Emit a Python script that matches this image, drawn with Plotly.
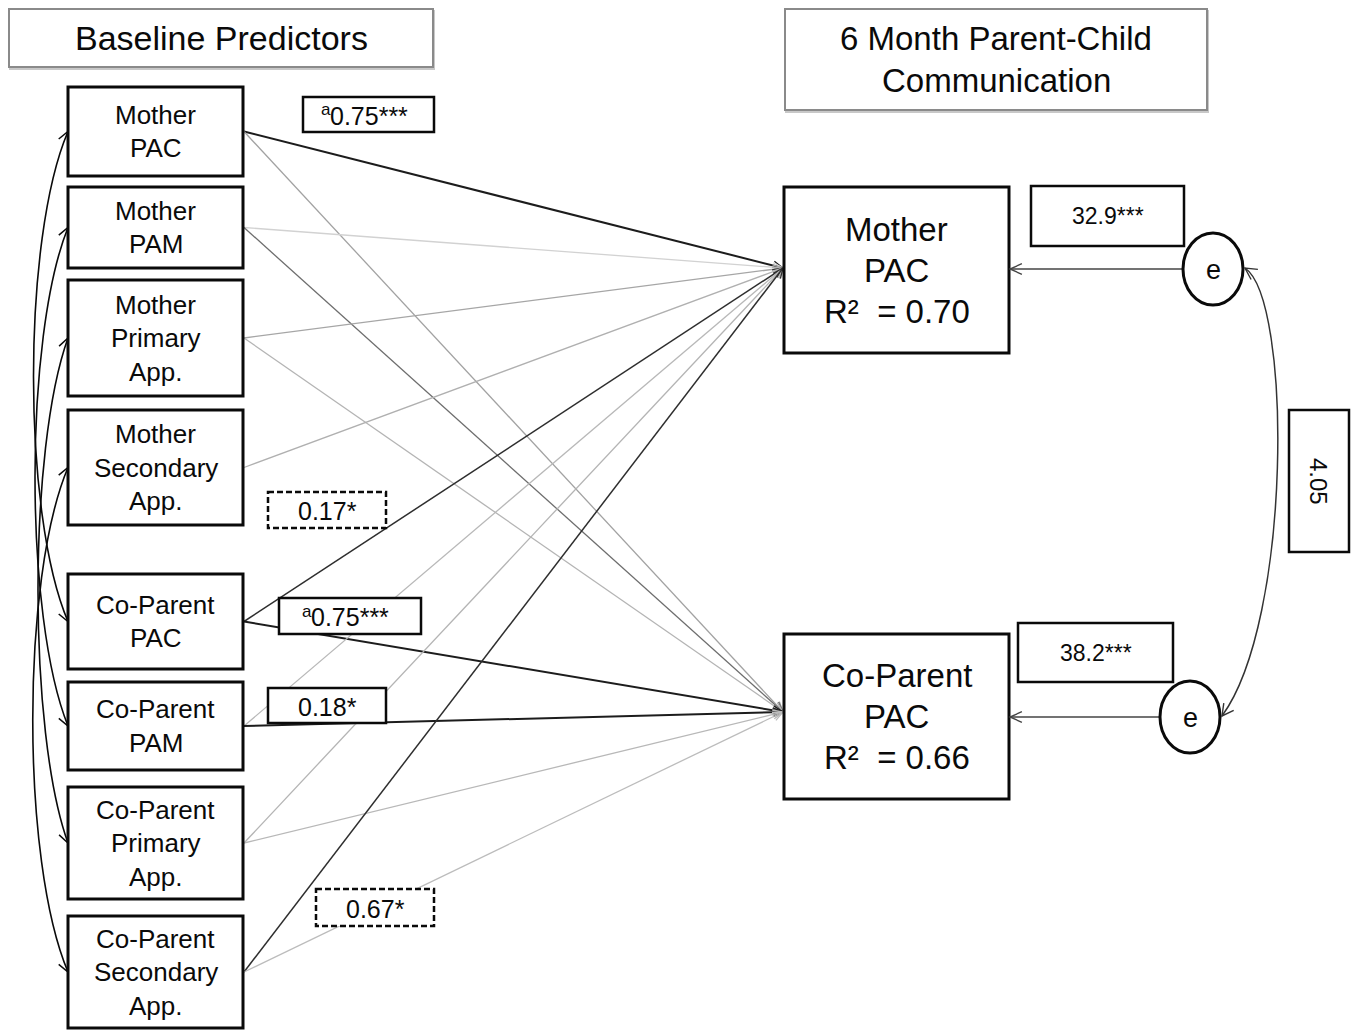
import math
import plotly.graph_objects as go

# ---------------- model content ----------------
header_left = "Baseline Predictors"
header_right = "6 Month Parent-Child<br>Communication"

predictor_labels = [
    "Mother<br>PAC", "Mother<br>PAM", "Mother<br>Primary<br>App.", "Mother<br>Secondary<br>App.",
    "Co-Parent<br>PAC", "Co-Parent<br>PAM", "Co-Parent<br>Primary<br>App.", "Co-Parent<br>Secondary<br>App.",
]
outcome_labels = ["Mother<br>PAC", "Co-Parent<br>PAC"]
outcome_r2 = [0.70, 0.66]
residual_variance = [32.9, 38.2]
residual_covariance = 4.05

# regression paths: predictor index -> outcome index
path_source = [0, 0, 1, 1, 2, 2, 3, 4, 4, 5, 5, 6, 6, 7, 7]
path_target = [0, 1, 0, 1, 0, 1, 0, 0, 1, 0, 1, 0, 1, 0, 1]
# 'actor' / 'partner' = significant, 'ns' = not significant
path_effect = ["actor", "ns", "ns", "ns", "ns", "ns", "ns",
               "partner", "actor", "ns", "actor", "ns", "ns", "partner", "ns"]

# reported coefficients (note letter, value text, effect type)
coef_note = ["a", "", "a", "", ""]
coef_text = ["0.75***", "0.17*", "0.75***", "0.18*", "0.67*"]
coef_kind = ["actor", "partner", "actor", "actor", "partner"]

# covariances among predictors (mother measure <-> co-parent measure)
cov_from = [0, 1, 2, 3]
cov_to = [4, 5, 6, 7]

# ---------------- geometry & styling ----------------
W, H = 1355, 1030
FONT = "Liberation Sans, Arial, Helvetica, sans-serif"
INK = "#0a0a0a"

HEAD_BOXES = [(9, 9, 433, 67), (785, 9, 1207, 110)]
PRED_X = (68, 243)
PRED_Y = [(87, 176), (187, 268), (280, 396), (410, 525),
          (574, 669), (682, 770), (787, 899), (916, 1028)]
OUT_X = (784, 1009)
OUT_Y = [(187, 353), (634, 799)]
OUT_TIP_Y = [268, 712]
COEF_BOX = [(303, 97, 434, 132), (268, 492, 386, 528), (279, 598, 421, 634),
            (268, 688, 386, 723), (316, 889, 434, 926)]
RES_BOX = [(1031, 186, 1184, 246), (1018, 623, 1173, 682)]
E_POS = [(1213, 269), (1190, 717)]
E_R = (30, 36)
COV_BOX = (1289, 410, 1349, 552)
ARC_BULGE = [46, 44, 40, 47]

PATH_COLOR = ["#1c1c1c", "#a2a2a2", "#d2d2d2", "#6e6e6e", "#a6a6a6", "#b4b4b4", "#b0b0b0",
              "#2e2e2e", "#1c1c1c", "#b8b8b8", "#1c1c1c", "#b4b4b4", "#b8b8b8", "#2e2e2e", "#bcbcbc"]
EFFECT_WIDTH = {"actor": 2.0, "partner": 1.5, "ns": 1.3}

shapes = []
annotations = []


def rect(x0, y0, x1, y1, color=INK, width=3, dash=None, fill="white"):
    shapes.append(dict(type="rect", xref="x", yref="y", x0=x0, y0=y0, x1=x1, y1=y1,
                       line=dict(color=color, width=width, dash=dash),
                       fillcolor=fill, layer="above"))


def seg(x0, y0, x1, y1, color, width, dash=None):
    shapes.append(dict(type="line", xref="x", yref="y", x0=x0, y0=y0, x1=x1, y1=y1,
                       line=dict(color=color, width=width, dash=dash), layer="above"))


def chevron(xt, yt, dx, dy, color, width, length=12, half=26):
    n = math.hypot(dx, dy)
    bx, by = -dx / n, -dy / n
    pts = []
    for s in (1, -1):
        a = math.radians(half * s)
        rx = bx * math.cos(a) - by * math.sin(a)
        ry = bx * math.sin(a) + by * math.cos(a)
        pts.append((xt + length * rx, yt + length * ry))
    path = f"M {pts[0][0]:.1f} {pts[0][1]:.1f} L {xt:.1f} {yt:.1f} L {pts[1][0]:.1f} {pts[1][1]:.1f}"
    shapes.append(dict(type="path", xref="x", yref="y", path=path,
                       line=dict(color=color, width=width), layer="above"))


def text(x, y, s, size, color=INK, angle=0, spacing=None, anchor="center"):
    """Place a (possibly multi-line) label; each line is its own annotation."""
    lines = s.split("<br>")
    step = spacing if spacing is not None else 1.28 * size
    for i, ln in enumerate(lines):
        yy = y + step * (i - (len(lines) - 1) / 2)
        annotations.append(dict(x=x, y=yy, xref="x", yref="y", text=ln, showarrow=False,
                                xanchor=anchor, yanchor="middle", textangle=angle,
                                borderpad=0,
                                font=dict(family=FONT, size=size, color=color)))


def mid(pair):
    return (pair[0] + pair[1]) / 2


# regression paths
tip_x = OUT_X[0] - 1
for k, (s, t) in enumerate(zip(path_source, path_target)):
    x0, y0 = PRED_X[1] + 1, mid(PRED_Y[s])
    x1, y1 = tip_x, OUT_TIP_Y[t]
    eff = path_effect[k]
    seg(x0, y0, x1, y1, PATH_COLOR[k], EFFECT_WIDTH[eff])
    chevron(x1, y1, x1 - x0, y1 - y0, PATH_COLOR[k], 1.3, length=11, half=24)

# predictor covariance arcs along the left edge
ax = PRED_X[0]
for k, (a, b) in enumerate(zip(cov_from, cov_to)):
    ya, yb = mid(PRED_Y[a]), mid(PRED_Y[b])
    d = yb - ya
    cx = ax - ARC_BULGE[k]
    c1y, c2y = ya + 0.22 * d, yb - 0.22 * d
    shapes.append(dict(type="path", xref="x", yref="y",
                       path=f"M {ax} {ya} C {cx} {c1y}, {cx} {c2y}, {ax} {yb}",
                       line=dict(color=INK, width=1.6), layer="above"))
    chevron(ax, ya, ax - cx, ya - c1y, INK, 1.5, length=12, half=28)
    chevron(ax, yb, ax - cx, yb - c2y, INK, 1.5, length=12, half=28)

# header boxes
for (x0, y0, x1, y1) in HEAD_BOXES:
    rect(x0 + 1, y0 + 2, x1 + 1, y1 + 2, color="#c8c8c8", width=2, fill="rgba(0,0,0,0)")
    rect(x0, y0, x1, y1, color="#8a8a8a", width=2)
text(mid((HEAD_BOXES[0][0], HEAD_BOXES[0][2])), mid((HEAD_BOXES[0][1], HEAD_BOXES[0][3])),
     header_left, 34)
text(mid((HEAD_BOXES[1][0], HEAD_BOXES[1][2])), mid((HEAD_BOXES[1][1], HEAD_BOXES[1][3])),
     header_right, 33, spacing=42)

# predictor boxes
for lab, (y0, y1) in zip(predictor_labels, PRED_Y):
    rect(PRED_X[0], y0, PRED_X[1], y1, width=3)
    text(mid(PRED_X), mid((y0, y1)), lab, 26, spacing=33.5)

# outcome boxes
for lab, r2, (y0, y1) in zip(outcome_labels, outcome_r2, OUT_Y):
    rect(OUT_X[0], y0, OUT_X[1], y1, width=3)
    text(mid(OUT_X), mid((y0, y1)), f"{lab}<br>R\u00b2\u00a0 = {r2:.2f}", 33, spacing=41)

# coefficient labels
for note, s, kind, (x0, y0, x1, y1) in zip(coef_note, coef_text, coef_kind, COEF_BOX):
    rect(x0, y0, x1, y1, width=2.5, dash="6px,3px" if kind == "partner" else None)
    cy = mid((y0, y1)) + 1
    if note:
        start = mid((x0, x1)) - 38
        text(start - 2, cy, s, 25, anchor="left")
        text(start + 1, cy - 6, note, 17, anchor="right")
    else:
        text(mid((x0, x1)), cy, s, 25)

# residual terms
for v, (x0, y0, x1, y1), (ex, ey) in zip(residual_variance, RES_BOX, E_POS):
    rect(x0, y0, x1, y1, width=2.5)
    text(mid((x0, x1)), mid((y0, y1)), f"{v:.1f}***", 23)
    seg(ex - E_R[0], ey, OUT_X[1] + 1, ey, "#444444", 1.6)
    chevron(OUT_X[1] + 1, ey, -1, 0, "#444444", 1.4, length=13, half=24)
    shapes.append(dict(type="circle", xref="x", yref="y",
                       x0=ex - E_R[0], x1=ex + E_R[0], y0=ey - E_R[1], y1=ey + E_R[1],
                       line=dict(color=INK, width=3), fillcolor="white", layer="above"))
    text(ex, ey + 1, "e", 27)

# residual covariance arc
(e1x, e1y), (e2x, e2y) = E_POS
s1 = (e1x + E_R[0] + 2, e1y - 1)
s2 = (e2x + E_R[0] + 2, e2y - 1)
c1 = (1292, 300)
c2 = (1292, 620)
shapes.append(dict(type="path", xref="x", yref="y",
                   path=f"M {s1[0]} {s1[1]} C {c1[0]} {c1[1]}, {c2[0]} {c2[1]}, {s2[0]} {s2[1]}",
                   line=dict(color="#333333", width=1.5), layer="above"))
chevron(s1[0], s1[1], s1[0] - c1[0], s1[1] - c1[1], "#333333", 1.4, length=13, half=28)
chevron(s2[0], s2[1], s2[0] - c2[0], s2[1] - c2[1], "#333333", 1.4, length=13, half=28)
rect(*COV_BOX, width=2.5)
text(mid((COV_BOX[0], COV_BOX[2])), mid((COV_BOX[1], COV_BOX[3])), f"{residual_covariance:.2f}", 24, angle=90)

fig = go.Figure()
fig.add_trace(go.Scatter(x=[0, W], y=[0, H], mode="markers", marker=dict(opacity=0),
                         hoverinfo="skip", showlegend=False))
fig.update_layout(
    width=W, height=H, margin=dict(l=0, r=0, t=0, b=0),
    paper_bgcolor="white", plot_bgcolor="white",
    xaxis=dict(range=[0, W], visible=False, fixedrange=True),
    yaxis=dict(range=[H, 0], visible=False, fixedrange=True),
    shapes=shapes, annotations=annotations, showlegend=False,
)
fig.write_html("out.html")
